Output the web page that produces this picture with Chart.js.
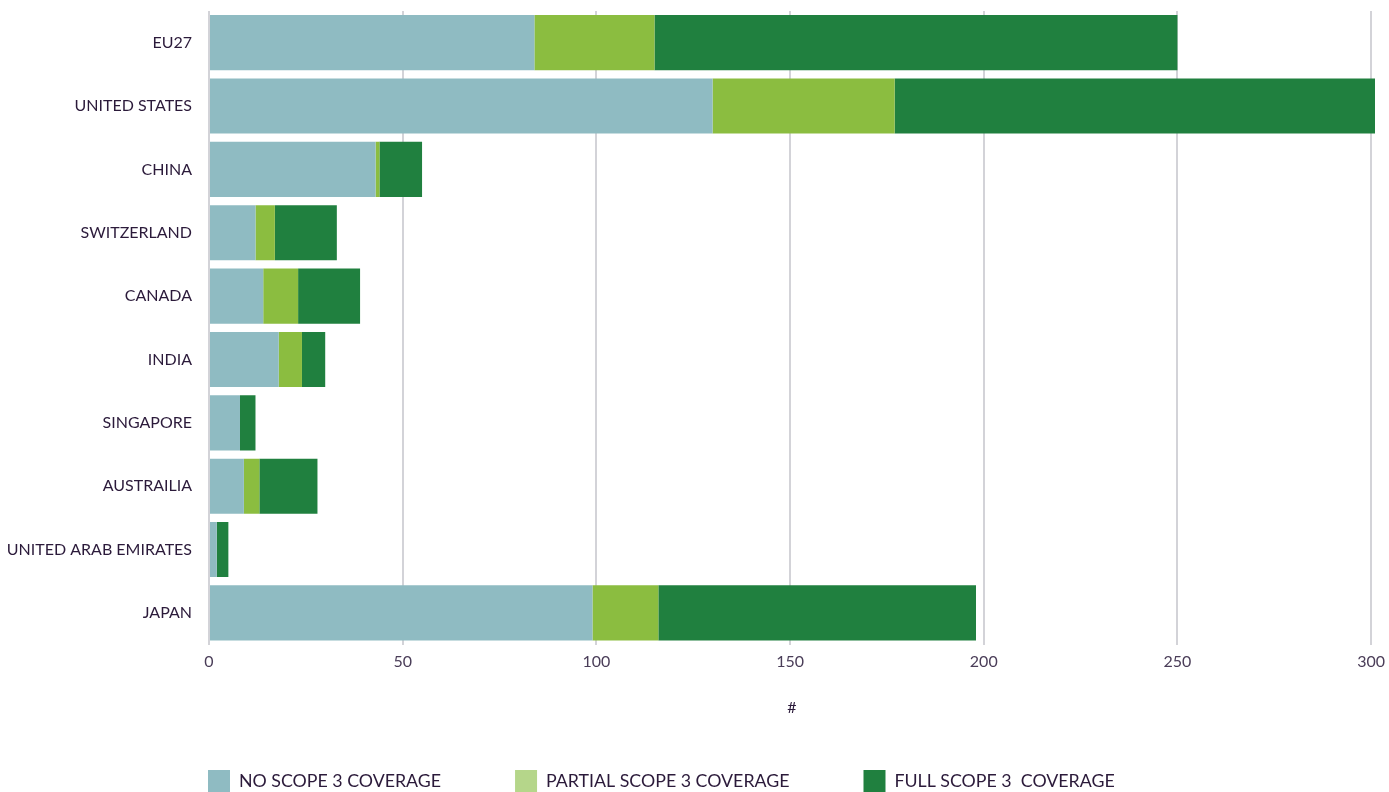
<!DOCTYPE html>
<html>
<head>
<meta charset="utf-8">
<script src="https://cdn.jsdelivr.net/npm/chart.js@4"></script>
<style>
  html, body { margin: 0; padding: 0; background: #fff; }
  #wrap { width: 1389px; height: 792px; }
</style>
</head>
<body>
<div id="wrap"><canvas id="chart"></canvas></div>
<script>
const countries = ['EU27', 'UNITED STATES', 'CHINA', 'SWITZERLAND', 'CANADA', 'INDIA',
    'SINGAPORE', 'AUSTRAILIA', 'UNITED ARAB EMIRATES', 'JAPAN'];
const noScope = [84, 130, 43, 12, 14, 18, 8, 9, 2, 99];
const partialScope = [31, 47, 1, 5, 9, 6, 0, 4, 0, 17];
const fullScope = [135, 124, 11, 16, 16, 6, 4, 15, 3, 82];
const xTicks = [0, 50, 100, 150, 200, 250, 300];

const textColor = '#2b1a3a';
const legendColors = ['#8fbbc2', '#b5d68a', '#20803f'];
const legendPadding = 74;

// put the legend where the original has it: first box under the y axis, at the very bottom
const legendPlace = {
    id: 'legendPlace',
    afterLayout(chart) {
        const legend = chart.legend;
        const startX = (legend.left + legendPadding + legend.right - legend.lineWidths[0]) / 2;
        const dx = 208 - startX;
        legend.left += dx;
        legend.right += dx;
        legend.top = 770 - legendPadding;
        legend.bottom = chart.height;
    }
};

function makeChart() {
    const ctx = document.getElementById('chart');

    const data = {
        labels: countries,
        datasets: [{
            label: 'NO SCOPE 3 COVERAGE',
            data: noScope,
            backgroundColor: '#8fbbc2',
        }, {
            label: 'PARTIAL SCOPE 3 COVERAGE',
            data: partialScope,
            backgroundColor: '#8bbd40',
        }, {
            label: 'FULL SCOPE 3  COVERAGE',
            data: fullScope,
            backgroundColor: '#20803f',
        }]
    };

    const config = {
        type: 'bar',
        data: data,
        plugins: [legendPlace],
        options: {
            indexAxis: 'y',
            responsive: true,
            maintainAspectRatio: false,
            animation: false,
            barPercentage: 0.87,
            categoryPercentage: 1,
            layout: {
                padding: 0
            },
            plugins: {
                tooltip: { enabled: false },
                legend: {
                    position: 'bottom',
                    maxHeight: 40,
                    labels: {
                        boxWidth: 22,
                        boxHeight: 22,
                        padding: legendPadding,
                        color: textColor,
                        font: { family: 'Lato', size: 17.8 },
                        generateLabels(chart) {
                            return chart.data.datasets.map((ds, i) => ({
                                text: ds.label,
                                fillStyle: legendColors[i],
                                strokeStyle: legendColors[i],
                                lineWidth: 0,
                                fontColor: textColor,
                                datasetIndex: i,
                                hidden: false
                            }));
                        }
                    }
                }
            },
            scales: {
                x: {
                    stacked: true,
                    min: 0,
                    max: 301,
                    afterBuildTicks(axis) {
                        axis.ticks = xTicks.map(v => ({ value: v }));
                    },
                    afterFit(axis) {
                        axis.paddingLeft = 0;
                        axis.paddingRight = 14;
                    },
                    grid: {
                        color: '#d3d3d8',
                        lineWidth: 2,
                        drawTicks: false
                    },
                    border: { display: false },
                    ticks: {
                        padding: 8,
                        color: '#4a3d58',
                        font: { family: 'Lato', size: 16 }
                    },
                    title: {
                        display: true,
                        text: '#',
                        color: textColor,
                        font: { family: 'Lato', size: 16 },
                        padding: { top: 18, bottom: 35 }
                    }
                },
                y: {
                    stacked: true,
                    afterFit(axis) {
                        axis.width = 209;
                        axis.paddingTop = 11;
                        axis.paddingBottom = 0;
                    },
                    grid: { display: false, drawTicks: false },
                    border: { display: false },
                    ticks: {
                        padding: 17,
                        color: textColor,
                        font: { family: 'Lato', size: 16 }
                    }
                }
            }
        }
    };

    new Chart(ctx, config);
}

makeChart();
</script>
</body>
</html>
